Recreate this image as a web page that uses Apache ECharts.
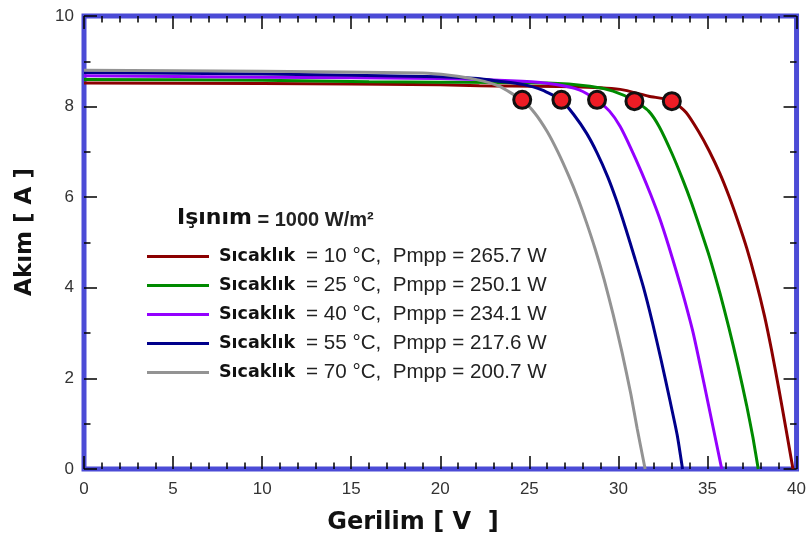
<!DOCTYPE html>
<html>
<head>
<meta charset="utf-8">
<script src="https://cdn.jsdelivr.net/npm/echarts@6/dist/echarts.min.js"></script>
<style>
html,body{margin:0;padding:0;background:#fff;}
#chart{width:809px;height:542px;}
</style>
</head>
<body>
<div id="chart"></div>
<script>
// ---- Data ----
var seriesNames = ['10 °C', '25 °C', '40 °C', '55 °C', '70 °C'];
var pmpp = ['265.7', '250.1', '234.1', '217.6', '200.7'];
var colors = ['#8b0000', '#008a00', '#9400ff', '#00008b', '#939393'];

var curve10 = [[0,8.52],[10,8.51],[20,8.48],[22.2,8.46],[27.4,8.44],[30.1,8.38],[31.7,8.23],[33.0,8.13],[33.8,7.87],[34.5,7.45],[35.1,7.02],[35.7,6.52],[36.2,6.03],[36.7,5.48],[37.2,4.88],[37.7,4.18],[38.2,3.38],[38.6,2.62],[39.0,1.78],[39.4,0.90],[39.8,0]];
var curve25 = [[0,8.60],[10,8.58],[16,8.55],[20,8.54],[26.0,8.52],[28.4,8.45],[29.7,8.34],[30.9,8.13],[31.7,7.90],[32.3,7.55],[33.0,6.97],[33.6,6.40],[34.1,5.88],[34.6,5.30],[35.1,4.70],[35.7,3.88],[36.2,3.12],[36.7,2.30],[37.2,1.40],[37.55,0.70],[37.85,0]];
var curve40 = [[0,8.68],[10,8.65],[20,8.62],[24.6,8.56],[26.5,8.49],[27.8,8.37],[28.8,8.14],[29.5,7.90],[30.1,7.56],[30.7,7.08],[31.3,6.55],[31.8,6.07],[32.3,5.55],[32.8,4.95],[33.3,4.30],[33.7,3.75],[34.2,3.00],[34.8,1.90],[35.3,0.95],[35.8,0]];
var curve55 = [[0,8.75],[10,8.72],[20,8.66],[22.1,8.62],[23.3,8.56],[24.6,8.49],[25.7,8.37],[26.8,8.14],[27.5,7.82],[28.2,7.42],[28.8,6.98],[29.4,6.45],[29.9,5.92],[30.4,5.32],[30.9,4.68],[31.4,4.02],[31.9,3.25],[32.4,2.40],[32.9,1.50],[33.3,0.75],[33.6,0]];
var curve70 = [[0,8.80],[10,8.78],[19,8.74],[20.5,8.69],[22.1,8.59],[23.3,8.45],[24.6,8.14],[25.3,7.86],[26.0,7.45],[26.6,7.00],[27.2,6.48],[27.7,6.00],[28.2,5.45],[28.7,4.85],[29.2,4.18],[29.7,3.42],[30.2,2.58],[30.7,1.65],[31.05,0.90],[31.5,0]];
var curves = [curve10, curve25, curve40, curve55, curve70];

var mppV = [33.0, 30.9, 28.8, 26.8, 24.6];
var mppI = [8.12, 8.12, 8.15, 8.15, 8.15];

var xTicks = {min: 0, max: 40, interval: 5};
var yTicks = {min: 0, max: 10, interval: 2};

// ---- Chart ----
var chart = echarts.init(document.getElementById('chart'), null, {renderer: 'canvas'});
var BLUE = '#4b4bd6';
var labelFont = '"Liberation Sans", Arial, sans-serif';
var boldFont = '"DejaVu Sans", Verdana, sans-serif';

function axisCommon(showLabel, interval, minorSplit) {
  return {
    type: 'value',
    interval: interval,
    axisLine: {show: false, onZero: false},
    axisTick: {show: true, inside: true, length: 13, lineStyle: {color: '#000', width: 1.5}},
    minorTick: {show: true, splitNumber: minorSplit, length: 6.5, lineStyle: {color: '#000', width: 1.5}},
    splitLine: {show: false},
    minorSplitLine: {show: false},
    axisLabel: {show: showLabel, fontFamily: labelFont, fontSize: 17, color: '#333'}
  };
}

var xBottom = axisCommon(true, xTicks.interval, 5);
xBottom.min = xTicks.min; xBottom.max = xTicks.max; xBottom.position = 'bottom';
xBottom.axisLabel.margin = 12;
var xTop = axisCommon(false, xTicks.interval, 5);
xTop.min = xTicks.min; xTop.max = xTicks.max; xTop.position = 'top';

var yLeft = axisCommon(true, yTicks.interval, 2);
yLeft.min = yTicks.min; yLeft.max = yTicks.max; yLeft.position = 'left';
yLeft.axisLabel.margin = 10;
var yRight = axisCommon(false, yTicks.interval, 2);
yRight.min = yTicks.min; yRight.max = yTicks.max; yRight.position = 'right';

var series = [];
for (var i = 0; i < curves.length; i++) {
  series.push({
    name: 'Sıcaklık ' + seriesNames[i],
    type: 'line',
    xAxisIndex: 0, yAxisIndex: 0,
    data: curves[i],
    showSymbol: false,
    symbol: 'none',
    lineStyle: {color: colors[i], width: 3},
    itemStyle: {color: colors[i]},
    smooth: 0.2,
    z: 3,
    animation: false
  });
}
var mppData = mppV.map(function (v, k) { return [v, mppI[k]]; });
series.push({
  name: 'MPP',
  type: 'scatter',
  data: mppData,
  symbol: 'circle',
  symbolSize: 17,
  itemStyle: {color: '#ee1c25', borderColor: '#111', borderWidth: 3, opacity: 1},
  z: 5,
  animation: false
});

var legendData = series.slice(0, 5).map(function (s) { return s.name; });

chart.setOption({
  backgroundColor: '#fff',
  animation: false,
  grid: {left: 84, right: 11, top: 16, bottom: 73, show: true, borderColor: BLUE, borderWidth: 5, backgroundColor: 'transparent'},
  xAxis: [xBottom, xTop],
  yAxis: [yLeft, yRight],
  title: {
    left: 177, top: 206, padding: 0,
    text: '{b|Işınım}{r| = 1000 W/m²}',
    textStyle: {
      rich: {
        b: {fontFamily: boldFont, fontWeight: 'bold', fontSize: 22, color: '#111'},
        r: {fontFamily: labelFont, fontSize: 20, color: '#222', padding: [4, 0, 0, 0]}
      }
    }
  },
  legend: {
    orient: 'vertical',
    left: 147, top: 246, padding: 0,
    itemWidth: 62, itemHeight: 3,
    itemGap: 8,
    icon: 'rect',
    data: legendData,
    formatter: function (name) {
      var k = legendData.indexOf(name);
      return '{b|Sıcaklık}{r|= ' + seriesNames[k] + ',  Pmpp = ' + pmpp[k] + ' W}';
    },
    textStyle: {
      padding: [0, 0, 0, 5],
      rich: {
        b: {fontFamily: boldFont, fontWeight: 'bold', fontSize: 17.5, color: '#111', height: 21, lineHeight: 21},
        r: {fontFamily: labelFont, fontSize: 20.6, color: '#222', padding: [0, 0, 0, 11], height: 21, lineHeight: 21}
      }
    }
  },
  graphic: [
    {type: 'text', x: 413, y: 523, style: {text: 'Gerilim [ V  ]', font: 'bold 24px "DejaVu Sans"', fill: '#111', align: 'center', verticalAlign: 'middle'}},
    {type: 'text', x: 25, y: 232, rotation: Math.PI / 2, style: {text: 'Akım [ A ]', font: 'bold 23px "DejaVu Sans"', fill: '#111', align: 'center', verticalAlign: 'middle'}}
  ],
  series: series
});
</script>
</body>
</html>
